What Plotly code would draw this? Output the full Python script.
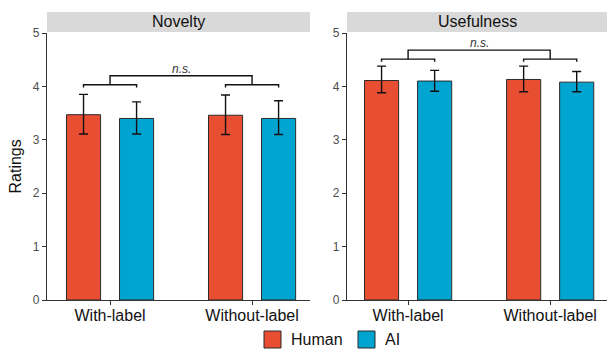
import plotly.graph_objects as go

conditions = ["With-label", "Without-label"]
groups = ["Human", "AI"]
panels = ["Novelty", "Usefulness"]

# means, upper error, lower error per panel
novelty_human = [3.47, 3.46]
novelty_human_up = [0.38, 0.38]
novelty_human_dn = [0.36, 0.36]
novelty_ai = [3.40, 3.40]
novelty_ai_up = [0.31, 0.33]
novelty_ai_dn = [0.29, 0.30]

useful_human = [4.11, 4.13]
useful_human_up = [0.27, 0.25]
useful_human_dn = [0.23, 0.23]
useful_ai = [4.10, 4.08]
useful_ai_up = [0.20, 0.20]
useful_ai_dn = [0.19, 0.18]

# significance brackets (y levels) per panel
bracket_low = [4.03, 4.51]
bracket_tip = [3.98, 4.46]
bracket_high = [4.20, 4.68]
bracket_label = ["n.s.", "n.s."]

y_ticks = [0, 1, 2, 3, 4, 5]

colors = {"Human": "#E84E31", "AI": "#00A4D1"}

W, H = 607, 350
px = lambda v: v / W
py = lambda v: 1 - v / H

dom_left = [px(47), px(310)]
dom_right = [px(347), px(607)]
ydom = [py(300), py(33)]

fig = go.Figure()

data = [
    (novelty_human, novelty_human_up, novelty_human_dn, novelty_ai, novelty_ai_up, novelty_ai_dn),
    (useful_human, useful_human_up, useful_human_dn, useful_ai, useful_ai_up, useful_ai_dn),
]
xpos = list(range(len(conditions)))
off = 0.187

for i, (hm, hu, hd, am, au, ad) in enumerate(data):
    xa = "x" if i == 0 else "x2"
    ya = "y" if i == 0 else "y2"
    for name, m, u, d in [("Human", hm, hu, hd), ("AI", am, au, ad)]:
        fig.add_trace(go.Bar(
            x=xpos, y=m, name=name, xaxis=xa, yaxis=ya, showlegend=False,
            marker=dict(color=colors[name], line=dict(color="#2b2b2b", width=1)),
            error_y=dict(type="data", symmetric=False, array=u, arrayminus=d,
                         color="#111111", thickness=1.4, width=4.5),
        ))
    # lower brackets
    for c in xpos:
        fig.add_trace(go.Scatter(
            x=[c - off, c - off, c + off, c + off],
            y=[bracket_tip[i], bracket_low[i], bracket_low[i], bracket_tip[i]],
            mode="lines", line=dict(color="#111111", width=1.4),
            xaxis=xa, yaxis=ya, showlegend=False, hoverinfo="skip"))
    # upper bracket
    fig.add_trace(go.Scatter(
        x=[xpos[0], xpos[0], xpos[1], xpos[1]],
        y=[bracket_low[i], bracket_high[i], bracket_high[i], bracket_low[i]],
        mode="lines", line=dict(color="#111111", width=1.4),
        xaxis=xa, yaxis=ya, showlegend=False, hoverinfo="skip"))
    fig.add_annotation(
        x=(xpos[0] + xpos[1]) / 2, y=bracket_high[i], xref=xa, yref=ya,
        text="<i>" + bracket_label[i] + "</i>", showarrow=False,
        xanchor="center", yanchor="bottom", yshift=-2,
        font=dict(size=12, color="#333333"))

xcommon = dict(
    tickmode="array", tickvals=xpos, ticktext=conditions,
    showline=True, linecolor="#333333", linewidth=1.3,
    ticks="outside", ticklen=4, tickcolor="#333333", tickwidth=1.2,
    tickfont=dict(size=16, color="#111111"), showgrid=False, zeroline=False,
    automargin=False, ticklabelstandoff=-3,
)
ycommon = dict(
    range=[0, 5], tickvals=y_ticks, showline=True, linecolor="#333333", linewidth=1.3,
    ticks="outside", ticklen=4, tickcolor="#333333", tickwidth=1.2,
    tickfont=dict(size=12, color="#4d4d4d"), showgrid=False, zeroline=False,
    domain=ydom, automargin=False,
)

fig.update_layout(
    width=W, height=H, margin=dict(l=0, r=0, t=0, b=0, autoexpand=False),
    plot_bgcolor="white", paper_bgcolor="white",
    font=dict(family="Liberation Sans, Arial, sans-serif"),
    barmode="group", bargap=0.253, bargroupgap=0.357,
    xaxis=dict(domain=dom_left, range=[-0.444, 1.408], anchor="y", **xcommon),
    xaxis2=dict(domain=dom_right, range=[-0.43, 1.40], anchor="y2", **xcommon),
    yaxis=dict(anchor="x", **ycommon),
    yaxis2=dict(anchor="x2", **ycommon),
    showlegend=False,
)

# y-axis title
fig.add_annotation(xref="paper", yref="paper", x=px(15), y=(ydom[0] + ydom[1]) / 2,
                   text="Ratings", textangle=-90, showarrow=False,
                   xanchor="center", yanchor="middle",
                   font=dict(size=16, color="#111111"))

# strips
for dom, title in [(dom_left, panels[0]), (dom_right, panels[1])]:
    fig.add_shape(type="rect", xref="paper", yref="paper",
                  x0=dom[0], x1=dom[1], y0=py(32), y1=py(12),
                  fillcolor="#d9d9d9", line=dict(width=0), layer="below")
    fig.add_annotation(xref="paper", yref="paper", x=(dom[0] + dom[1]) / 2,
                       y=py(22), text=title, showarrow=False,
                       font=dict(size=16, color="#111111"),
                       xanchor="center", yanchor="middle")

# legend (manual keys)
legend_items = [("Human", 264), ("AI", 358)]
for name, x0 in legend_items:
    fig.add_shape(type="rect", xref="paper", yref="paper",
                  x0=px(x0), x1=px(x0 + 17), y0=py(348), y1=py(331),
                  fillcolor=colors[name], line=dict(color="#2b2b2b", width=1))
    fig.add_annotation(xref="paper", yref="paper", x=px(x0 + 25), y=py(339.5),
                       text=name, showarrow=False, xanchor="left", yanchor="middle",
                       font=dict(size=16, color="#111111"))

fig.write_html("out.html", config={"displayModeBar": False},
               post_script="document.body.style.margin='0';document.body.style.overflow='hidden';")
